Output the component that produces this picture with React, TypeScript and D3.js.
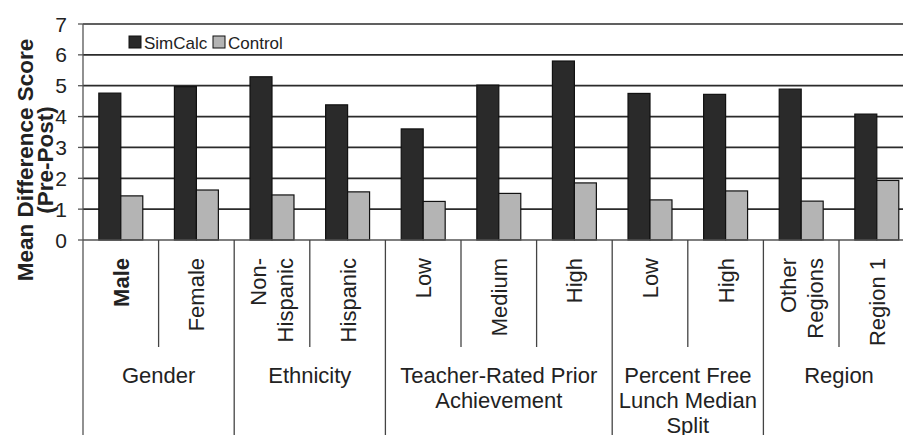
import React from "react";
import * as d3 from "d3";

const categories = ["Male", "Female", "Non-\nHispanic", "Hispanic", "Low", "Medium", "High", "Low", "High", "Other\nRegions", "Region 1"];
const simCalc = [4.76, 4.97, 5.29, 4.38, 3.6, 5.02, 5.8, 4.75, 4.72, 4.89, 4.08];
const control = [1.43, 1.62, 1.46, 1.56, 1.25, 1.51, 1.85, 1.3, 1.59, 1.26, 1.93];
const groupNames = ["Gender", "Ethnicity", "Teacher-Rated Prior\nAchievement", "Percent Free\nLunch Median\nSplit", "Region"];
const groupStart = [0, 2, 4, 7, 9];
const groupEnd = [1, 3, 6, 8, 10];
const seriesNames = ["SimCalc", "Control"];
const yTicks = [0, 1, 2, 3, 4, 5, 6, 7];

const W = 903, H = 435;
const left = 83, step = 75.6;
const y0 = 240, y7 = 24;
const FONT = "'Liberation Sans', Arial, sans-serif";
const colors = ["#2a2a2a", "#b4b4b4"];

export default function App() {
  const idx = categories.map((_, i) => i);
  const x = d3.scaleBand<number>().domain(idx).range([left, left + step * categories.length]).padding(0);
  const xi = d3.scaleBand<string>().domain(seriesNames).range([0, x.bandwidth()]).paddingInner(0).paddingOuter(0.72);
  const y = d3.scaleLinear().domain([0, 7]).range([y0, y7]);
  const values = [simCalc, control];
  const legendX = [129, 213];

  return (
    <svg width={W} height={H} style={{ position: "absolute", left: 0, top: 0, background: "#fff" }} fontFamily={FONT}>
      {/* gridlines */}
      {yTicks.filter((t) => t > 0).map((t) => (
        <line key={t} x1={left} x2={W} y1={y(t)} y2={y(t)} stroke="#2b2b2b" strokeWidth={t === 7 ? 2 : 1.8} opacity={t === 7 ? 0.75 : 1} />
      ))}
      {/* y axis */}
      <line x1={left} x2={left} y1={y(7)} y2={H} stroke="#555" strokeWidth={1.3} />
      {yTicks.map((t) => (
        <g key={t}>
          <line x1={left - 5} x2={left} y1={y(t)} y2={y(t)} stroke="#555" strokeWidth={1.3} />
          <text x={67} y={y(t)} dy="0.36em" textAnchor="end" fontSize={21} fill="#222">{t}</text>
        </g>
      ))}
      {/* y title */}
      <text transform={`translate(33,160) rotate(-90)`} textAnchor="middle" fontSize={22.5} fontWeight="bold" fill="#222">Mean Difference Score</text>
      <text transform={`translate(53,160) rotate(-90)`} textAnchor="middle" fontSize={22.5} fontWeight="bold" fill="#222">(Pre-Post)</text>
      {/* bars */}
      {idx.map((i) => (
        <g key={i}>
          {seriesNames.map((s, k) => (
            <rect key={s} x={(x(i) as number) + (xi(s) as number)} y={y(values[k][i])} width={xi.bandwidth()} height={y(0) - y(values[k][i])}
              fill={colors[k]} stroke="#111" strokeWidth={1.2} />
          ))}
        </g>
      ))}
      {/* x axis */}
      <line x1={left} x2={W} y1={y0} y2={y0} stroke="#555" strokeWidth={1.5} />
      {/* category separators */}
      {idx.slice(1).map((i) => {
        const isGroup = groupStart.includes(i);
        return <line key={i} x1={x(i) as number} x2={x(i) as number} y1={y0} y2={isGroup ? H : 347} stroke="#444" strokeWidth={1.3} />;
      })}
      {/* category labels */}
      {idx.map((i) => {
        const lines = categories[i].split("\n");
        const cx = (x(i) as number) + x.bandwidth() / 2;
        return (
          <text key={i} transform={`translate(${cx},258) rotate(-90)`} textAnchor="end" fontSize={22} fill="#222" fontWeight={i === 0 ? "bold" : "normal"}>
            {lines.map((l, j) => (
              <tspan key={j} x={0} y={(j - (lines.length - 1) / 2) * 27} dy="0.36em">{l}</tspan>
            ))}
          </text>
        );
      })}
      {/* group labels */}
      {groupNames.map((g, k) => {
        const x1 = x(groupStart[k]) as number;
        const x2 = (x(groupEnd[k]) as number) + x.bandwidth();
        const cx = (x1 + x2) / 2;
        return (
          <text key={g} x={cx} y={383} textAnchor="middle" fontSize={22} fill="#222">
            {g.split("\n").map((l, j) => (
              <tspan key={j} x={cx} y={383 + j * 25}>{l}</tspan>
            ))}
          </text>
        );
      })}
      {/* legend */}
      {seriesNames.map((s, k) => {
        const lx = legendX[k];
        return (
          <g key={s}>
            <rect x={lx} y={36} width={12} height={12} fill={colors[k]} stroke="#111" strokeWidth={1} />
            <text x={lx + 15} y={48.5} fontSize={17} fill="#222">{s}</text>
          </g>
        );
      })}
    </svg>
  );
}
